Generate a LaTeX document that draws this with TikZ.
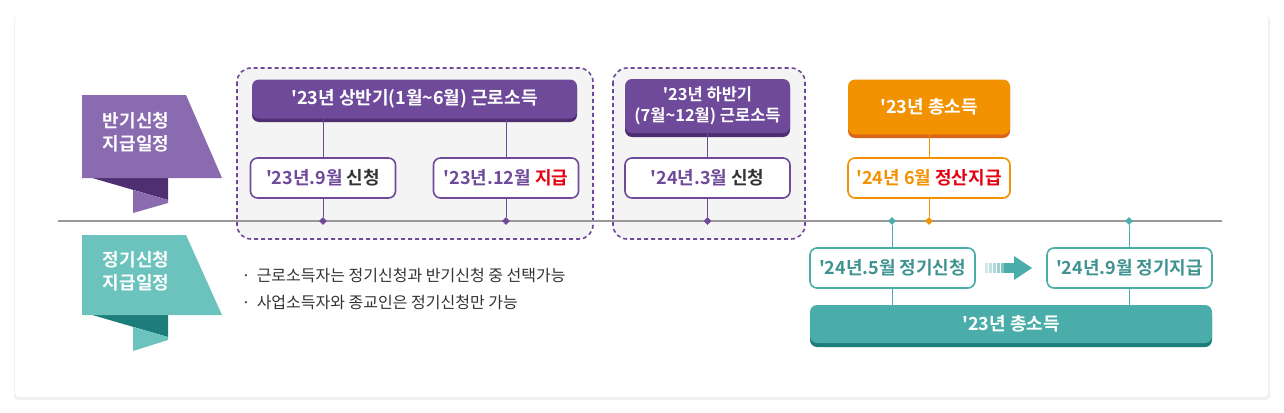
\documentclass[tikz,border=0pt]{standalone}
\usetikzlibrary{shapes.geometric}
\usepackage{fontspec}
\newfontfamily\kr{Noto Sans CJK KR}[BoldFont={Noto Sans CJK KR Bold}]
\begin{document}
\begin{tikzpicture}[x=1pt,y=-1pt,font=\kr\bfseries,
  hdr/.style={rounded corners=7pt,text=white,font=\kr\bfseries\fontsize{18}{22}\selectfont,align=center,inner sep=0pt},
  sub/.style={draw,line width=1.6pt,fill=white,rounded corners=7pt,font=\kr\bfseries\fontsize{18}{22}\selectfont,inner sep=0pt},
  grp/.style={draw=purp,dashed,dash pattern=on 4pt off 3pt,line width=1.6pt,fill=grayf,rounded corners=14pt},
  lnk/.style={line width=1pt},
  dot/.style={diamond,inner sep=0pt,minimum size=8pt}]
\definecolor{purp}{HTML}{6F4A9A}\definecolor{purpd}{HTML}{4E2F72}\definecolor{purpl}{HTML}{8A6BB0}
\definecolor{teal1}{HTML}{4AADA9}\definecolor{teald}{HTML}{1C7D7B}\definecolor{teall}{HTML}{6CC3BE}
\definecolor{orng}{HTML}{F39200}\definecolor{orngd}{HTML}{D9641A}\definecolor{grayf}{HTML}{F4F4F4}
\definecolor{txt}{HTML}{333333}\definecolor{redc}{HTML}{E60012}
\useasboundingbox (0,0) rectangle (1284,412);
\fill[white] (0,0) rectangle (1284,412);
\fill[black!6,rounded corners=4pt] (14,16) rectangle (1270,400);
\fill[white,rounded corners=4pt] (15,15) rectangle (1268,397);
% banners
\fill[purpd] (82,175) -- (168,175) -- (168,200) -- cycle;
\fill[purpl] (133,190) -- (168,200) -- (168,203) -- (133,213) -- cycle;
\fill[purpl] (82,95) -- (186,95) -- (222,178) -- (82,178) -- cycle;
\node[text=white,font=\kr\bfseries\fontsize{18}{23}\selectfont,align=center] (b1) at (136,132) {반기신청\\지급일정};
\fill[teald] (82,312) -- (168,312) -- (168,337) -- cycle;
\fill[teall] (133,327) -- (168,337) -- (168,340) -- (133,351) -- cycle;
\fill[teall] (82,235) -- (186,235) -- (222,315) -- (82,315) -- cycle;
\node[text=white,font=\kr\bfseries\fontsize{18}{23}\selectfont,align=center] (b2) at (136,271) {정기신청\\지급일정};
% groups
\draw[grp] (237,68) rectangle (593,239);
\draw[grp] (613,68) rectangle (805,239);
% timeline
\draw[black!40,line width=1.6pt] (58,221) coordinate (t0) -- (1222,221) coordinate (t1);
% purple headers
\fill[purpd,rounded corners=7pt] (252,82) rectangle (577,122);
\node[hdr,fill=purp,minimum width=325pt,minimum height=39pt] (h1) at (414.5,99) {'23년 상반기(1월\textasciitilde6월) 근로소득};
\fill[purpd,rounded corners=7pt] (625,82) rectangle (790,137);
\node[hdr,fill=purp,minimum width=165pt,minimum height=54pt,font=\kr\bfseries\fontsize{16.5}{21}\selectfont] (h2) at (707.5,106) {'23년 하반기\\(7월\textasciitilde12월) 근로소득};
\fill[orngd,rounded corners=7pt] (848,82) rectangle (1010,138);
\node[hdr,fill=orng,minimum width=162pt,minimum height=55pt] (h3) at (929,107) {'23년 총소득};
% sub boxes
\node[sub,draw=purp,text=purp,minimum width=145pt,minimum height=40pt] (s1) at (323,178) {'23년.9월 \textcolor{txt}{신청}};
\node[sub,draw=purp,text=purp,minimum width=145pt,minimum height=40pt] (s2) at (506,178) {'23년.12월 \textcolor{redc}{지급}};
\node[sub,draw=purp,text=purp,minimum width=165pt,minimum height=40pt] (s3) at (707.5,178) {'24년.3월 \textcolor{txt}{신청}};
\node[sub,draw=orng,text=orng,minimum width=162pt,minimum height=40pt] (s4) at (929,178) {'24년 6월 \textcolor{redc}{정산지급}};
% dots
\node[dot,fill=purp] (d1) at (323,221) {};
\node[dot,fill=purp] (d2) at (506,221) {};
\node[dot,fill=purp] (d3) at (707.5,221) {};
\node[dot,fill=orng] (d4) at (929,221) {};
\node[dot,fill=teal1] (d5) at (892,221) {};
\node[dot,fill=teal1] (d6) at (1129,221) {};
% teal
\fill[teald,rounded corners=7pt] (810,308) rectangle (1212,347);
\node[hdr,fill=teal1,minimum width=402pt,minimum height=38pt] (tb) at (1011,324) {'23년 총소득};
\node[sub,draw=teal1,text=teal1!85!black,minimum width=165pt,minimum height=40pt] (s5) at (892.5,268) {'24년.5월 정기신청};
\node[sub,draw=teal1,text=teal1!85!black,minimum width=165pt,minimum height=40pt] (s6) at (1129.5,268) {'24년.9월 정기지급};
% links
\draw[lnk,purp] (h1.south -| s1) -- (s1.north) (s1.south) -- (d1);
\draw[lnk,purp] (h1.south -| s2) -- (s2.north) (s2.south) -- (d2);
\draw[lnk,purp] (h2.south) -- (s3.north) (s3.south) -- (d3);
\draw[lnk,orng] (h3.south) -- (s4.north) (s4.south) -- (d4);
\draw[lnk,teal1] (d5) -- (s5.north -| d5) (s5.south -| d5) -- (tb.north -| d5);
\draw[lnk,teal1] (d6) -- (s6.north -| d6) (s6.south -| d6) -- (tb.north -| d6);
% arrow
\coordinate (a0) at (985,268);
\foreach \i/\o in {0/0.25,4/0.35,8/0.45,12/0.55,16/0.7}
  \fill[teal1,opacity=\o] ([xshift=\i pt,yshift=-5pt]a0) rectangle ([xshift=\i pt+2.5pt,yshift=5pt]a0);
\fill[teal1] ([xshift=19pt,yshift=-5pt]a0) rectangle ([xshift=30pt,yshift=5pt]a0);
\fill[teal1] ([xshift=29pt,yshift=-12pt]a0) -- ([xshift=47pt]a0) -- ([xshift=29pt,yshift=12pt]a0) -- cycle;
% notes
\node[anchor=west,text=txt,font=\kr\fontsize{16}{19}\selectfont] (n1) at (238,276) {·\, 근로소득자는 정기신청과 반기신청 중 선택가능};
\node[anchor=west,text=txt,font=\kr\fontsize{16}{19}\selectfont] (n2) at (238,303) {·\, 사업소득자와 종교인은 정기신청만 가능};
\end{tikzpicture}
\end{document}
